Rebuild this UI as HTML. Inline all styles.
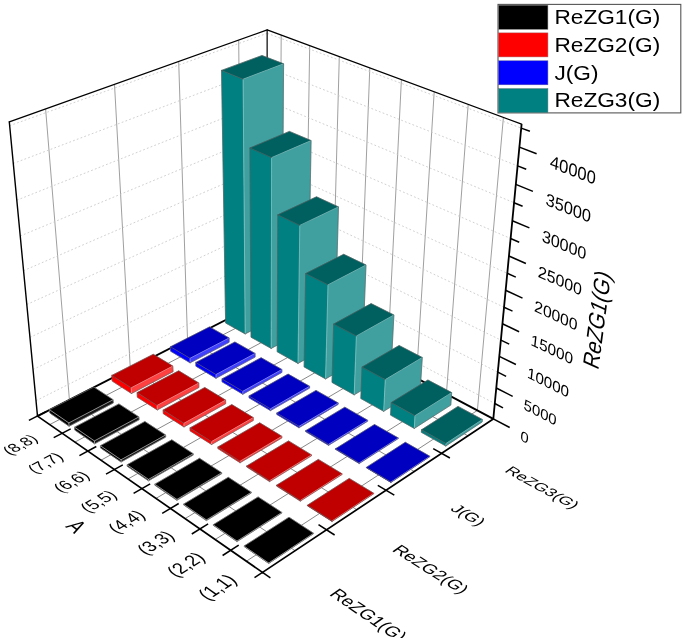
<!DOCTYPE html>
<html><head><meta charset="utf-8"><title>chart</title>
<style>html,body{margin:0;padding:0;background:#fff}svg{display:block}text{font-family:"Liberation Sans",sans-serif;fill:#000}</style>
</head><body>
<svg width="685" height="638" viewBox="0 0 685 638">
<rect width="685" height="638" fill="#fff"/>
<line x1="69.4" y1="399.7" x2="45.6" y2="108.9" stroke="#949494" stroke-width="0.9" />
<line x1="130.3" y1="368.6" x2="114.5" y2="84.4" stroke="#949494" stroke-width="0.9" />
<line x1="187.5" y1="339.4" x2="178.7" y2="61.5" stroke="#949494" stroke-width="0.9" />
<line x1="241.3" y1="312.0" x2="238.7" y2="40.1" stroke="#949494" stroke-width="0.9" />
<line x1="477.4" y1="410.4" x2="503.4" y2="117.5" stroke="#949494" stroke-width="0.9" />
<line x1="446.4" y1="394.0" x2="468.2" y2="104.4" stroke="#949494" stroke-width="0.9" />
<line x1="416.4" y1="378.0" x2="434.2" y2="91.8" stroke="#949494" stroke-width="0.9" />
<line x1="387.3" y1="362.6" x2="401.4" y2="79.7" stroke="#949494" stroke-width="0.9" />
<line x1="359.1" y1="347.6" x2="369.8" y2="67.9" stroke="#949494" stroke-width="0.9" />
<line x1="331.8" y1="333.2" x2="339.3" y2="56.6" stroke="#949494" stroke-width="0.9" />
<line x1="305.3" y1="319.1" x2="309.7" y2="45.6" stroke="#949494" stroke-width="0.9" />
<line x1="279.6" y1="305.5" x2="281.2" y2="35.0" stroke="#949494" stroke-width="0.9" />
<line x1="36.0" y1="400.7" x2="267.1" y2="284.6" stroke="#c4c4c4" stroke-width="0.8" stroke-dasharray="1.8 2.2"/>
<line x1="267.1" y1="284.6" x2="494.8" y2="403.5" stroke="#c4c4c4" stroke-width="0.8" stroke-dasharray="1.8 2.2"/>
<line x1="33.0" y1="369.5" x2="267.1" y2="255.7" stroke="#c4c4c4" stroke-width="0.8" stroke-dasharray="1.8 2.2"/>
<line x1="267.1" y1="255.7" x2="497.8" y2="372.2" stroke="#c4c4c4" stroke-width="0.8" stroke-dasharray="1.8 2.2"/>
<line x1="29.9" y1="337.4" x2="267.1" y2="226.2" stroke="#c4c4c4" stroke-width="0.8" stroke-dasharray="1.8 2.2"/>
<line x1="267.1" y1="226.2" x2="500.9" y2="340.1" stroke="#c4c4c4" stroke-width="0.8" stroke-dasharray="1.8 2.2"/>
<line x1="26.8" y1="304.5" x2="267.1" y2="195.9" stroke="#c4c4c4" stroke-width="0.8" stroke-dasharray="1.8 2.2"/>
<line x1="267.1" y1="195.9" x2="504.0" y2="307.2" stroke="#c4c4c4" stroke-width="0.8" stroke-dasharray="1.8 2.2"/>
<line x1="23.5" y1="270.7" x2="267.2" y2="165.0" stroke="#c4c4c4" stroke-width="0.8" stroke-dasharray="1.8 2.2"/>
<line x1="267.2" y1="165.0" x2="507.3" y2="273.3" stroke="#c4c4c4" stroke-width="0.8" stroke-dasharray="1.8 2.2"/>
<line x1="20.2" y1="236.0" x2="267.2" y2="133.2" stroke="#c4c4c4" stroke-width="0.8" stroke-dasharray="1.8 2.2"/>
<line x1="267.2" y1="133.2" x2="510.6" y2="238.5" stroke="#c4c4c4" stroke-width="0.8" stroke-dasharray="1.8 2.2"/>
<line x1="16.8" y1="200.2" x2="267.2" y2="100.7" stroke="#c4c4c4" stroke-width="0.8" stroke-dasharray="1.8 2.2"/>
<line x1="267.2" y1="100.7" x2="514.0" y2="202.7" stroke="#c4c4c4" stroke-width="0.8" stroke-dasharray="1.8 2.2"/>
<line x1="13.2" y1="163.5" x2="267.2" y2="67.5" stroke="#c4c4c4" stroke-width="0.8" stroke-dasharray="1.8 2.2"/>
<line x1="267.2" y1="67.5" x2="517.6" y2="165.9" stroke="#c4c4c4" stroke-width="0.8" stroke-dasharray="1.8 2.2"/>
<line x1="9.6" y1="125.7" x2="267.2" y2="33.3" stroke="#c4c4c4" stroke-width="0.8" stroke-dasharray="1.8 2.2"/>
<line x1="267.2" y1="33.3" x2="521.2" y2="128.1" stroke="#c4c4c4" stroke-width="0.8" stroke-dasharray="1.8 2.2"/>
<line x1="295.1" y1="550.7" x2="69.4" y2="399.7" stroke="#6a6a6a" stroke-width="0.8" />
<line x1="356.8" y1="509.7" x2="130.3" y2="368.6" stroke="#6a6a6a" stroke-width="0.8" />
<line x1="414.3" y1="471.5" x2="187.5" y2="339.4" stroke="#6a6a6a" stroke-width="0.8" />
<line x1="467.9" y1="435.8" x2="241.3" y2="312.0" stroke="#6a6a6a" stroke-width="0.8" />
<line x1="246.4" y1="561.2" x2="477.4" y2="410.4" stroke="#6a6a6a" stroke-width="0.8" />
<line x1="215.2" y1="539.5" x2="446.4" y2="394.0" stroke="#6a6a6a" stroke-width="0.8" />
<line x1="185.1" y1="518.6" x2="416.4" y2="378.0" stroke="#6a6a6a" stroke-width="0.8" />
<line x1="156.0" y1="498.4" x2="387.3" y2="362.6" stroke="#6a6a6a" stroke-width="0.8" />
<line x1="128.0" y1="479.0" x2="359.1" y2="347.6" stroke="#6a6a6a" stroke-width="0.8" />
<line x1="101.0" y1="460.2" x2="331.8" y2="333.2" stroke="#6a6a6a" stroke-width="0.8" />
<line x1="74.9" y1="442.1" x2="305.3" y2="319.1" stroke="#6a6a6a" stroke-width="0.8" />
<line x1="49.7" y1="424.6" x2="279.6" y2="305.5" stroke="#6a6a6a" stroke-width="0.8" />
<line x1="267.1" y1="298.8" x2="267.2" y2="29.9" stroke="#444" stroke-width="1.6" />
<line x1="37.5" y1="416.1" x2="9.3" y2="121.9" stroke="#000" stroke-width="1.4" stroke-linecap="round"/>
<line x1="9.3" y1="121.9" x2="267.2" y2="29.9" stroke="#000" stroke-width="1.3" stroke-linecap="round"/>
<line x1="267.2" y1="29.9" x2="521.6" y2="124.2" stroke="#000" stroke-width="1.3" stroke-linecap="round"/>
<line x1="37.5" y1="416.1" x2="267.1" y2="298.8" stroke="#000" stroke-width="1.9" />
<line x1="267.1" y1="298.8" x2="493.3" y2="418.9" stroke="#000" stroke-width="1.9" />
<polygon points="225.6,323.0 245.2,333.9 243.1,79.2 221.5,70.4" fill="#008080" stroke="#008080" stroke-width="0.4" stroke-linejoin="round"/>
<polygon points="245.2,333.9 281.9,314.7 283.6,63.8 243.1,79.2" fill="#40a0a0" stroke="#40a0a0" stroke-width="0.4" stroke-linejoin="round"/>
<polygon points="221.5,70.4 262.0,55.5 283.6,63.8 243.1,79.2" fill="#006060" stroke="#006060" stroke-width="0.4" stroke-linejoin="round"/>
<polyline points="245.2,333.9 243.1,79.2 283.6,63.8" fill="none" stroke="#9ccccc" stroke-width="0.6" stroke-linejoin="round" stroke-linecap="round"/>
<polyline points="221.5,70.4 243.1,79.2" fill="none" stroke="#5c5c5c" stroke-width="0.6" stroke-linejoin="round" stroke-linecap="round"/>
<polyline points="245.2,333.9 225.6,323.0 221.5,70.4 262.0,55.5 283.6,63.8 281.9,314.7 245.2,333.9" fill="none" stroke="#5c5c5c" stroke-width="0.6" stroke-linejoin="round" stroke-linecap="round"/>
<polygon points="251.0,337.2 271.2,348.4 271.6,157.6 249.9,148.0" fill="#008080" stroke="#008080" stroke-width="0.4" stroke-linejoin="round"/>
<polygon points="271.2,348.4 307.9,328.6 311.1,140.6 271.6,157.6" fill="#40a0a0" stroke="#40a0a0" stroke-width="0.4" stroke-linejoin="round"/>
<polygon points="249.9,148.0 289.4,131.4 311.1,140.6 271.6,157.6" fill="#006060" stroke="#006060" stroke-width="0.4" stroke-linejoin="round"/>
<polyline points="271.2,348.4 271.6,157.6 311.1,140.6" fill="none" stroke="#9ccccc" stroke-width="0.6" stroke-linejoin="round" stroke-linecap="round"/>
<polyline points="249.9,148.0 271.6,157.6" fill="none" stroke="#5c5c5c" stroke-width="0.6" stroke-linejoin="round" stroke-linecap="round"/>
<polyline points="271.2,348.4 251.0,337.2 249.9,148.0 289.4,131.4 311.1,140.6 307.9,328.6 271.2,348.4" fill="none" stroke="#5c5c5c" stroke-width="0.6" stroke-linejoin="round" stroke-linecap="round"/>
<polygon points="277.2,351.8 298.0,363.4 299.8,225.4 277.8,214.8" fill="#008080" stroke="#008080" stroke-width="0.4" stroke-linejoin="round"/>
<polygon points="298.0,363.4 334.7,342.9 338.5,206.9 299.8,225.4" fill="#40a0a0" stroke="#40a0a0" stroke-width="0.4" stroke-linejoin="round"/>
<polygon points="277.8,214.8 316.5,196.8 338.5,206.9 299.8,225.4" fill="#006060" stroke="#006060" stroke-width="0.4" stroke-linejoin="round"/>
<polyline points="298.0,363.4 299.8,225.4 338.5,206.9" fill="none" stroke="#9ccccc" stroke-width="0.6" stroke-linejoin="round" stroke-linecap="round"/>
<polyline points="277.8,214.8 299.8,225.4" fill="none" stroke="#5c5c5c" stroke-width="0.6" stroke-linejoin="round" stroke-linecap="round"/>
<polyline points="298.0,363.4 277.2,351.8 277.8,214.8 316.5,196.8 338.5,206.9 334.7,342.9 298.0,363.4" fill="none" stroke="#5c5c5c" stroke-width="0.6" stroke-linejoin="round" stroke-linecap="round"/>
<polygon points="304.1,366.9 325.6,378.9 328.0,284.8 305.6,273.6" fill="#008080" stroke="#008080" stroke-width="0.4" stroke-linejoin="round"/>
<polygon points="325.6,378.9 362.3,357.7 366.0,265.0 328.0,284.8" fill="#40a0a0" stroke="#40a0a0" stroke-width="0.4" stroke-linejoin="round"/>
<polygon points="305.6,273.6 343.7,254.3 366.0,265.0 328.0,284.8" fill="#006060" stroke="#006060" stroke-width="0.4" stroke-linejoin="round"/>
<polyline points="325.6,378.9 328.0,284.8 366.0,265.0" fill="none" stroke="#9ccccc" stroke-width="0.6" stroke-linejoin="round" stroke-linecap="round"/>
<polyline points="305.6,273.6 328.0,284.8" fill="none" stroke="#5c5c5c" stroke-width="0.6" stroke-linejoin="round" stroke-linecap="round"/>
<polyline points="325.6,378.9 304.1,366.9 305.6,273.6 343.7,254.3 366.0,265.0 362.3,357.7 325.6,378.9" fill="none" stroke="#5c5c5c" stroke-width="0.6" stroke-linejoin="round" stroke-linecap="round"/>
<polygon points="332.0,382.4 354.2,394.8 356.4,336.0 333.6,324.1" fill="#008080" stroke="#008080" stroke-width="0.4" stroke-linejoin="round"/>
<polygon points="354.2,394.8 390.9,373.0 393.9,315.0 356.4,336.0" fill="#40a0a0" stroke="#40a0a0" stroke-width="0.4" stroke-linejoin="round"/>
<polygon points="333.6,324.1 371.1,303.6 393.9,315.0 356.4,336.0" fill="#006060" stroke="#006060" stroke-width="0.4" stroke-linejoin="round"/>
<polyline points="354.2,394.8 356.4,336.0 393.9,315.0" fill="none" stroke="#9ccccc" stroke-width="0.6" stroke-linejoin="round" stroke-linecap="round"/>
<polyline points="333.6,324.1 356.4,336.0" fill="none" stroke="#5c5c5c" stroke-width="0.6" stroke-linejoin="round" stroke-linecap="round"/>
<polyline points="354.2,394.8 332.0,382.4 333.6,324.1 371.1,303.6 393.9,315.0 390.9,373.0 354.2,394.8" fill="none" stroke="#5c5c5c" stroke-width="0.6" stroke-linejoin="round" stroke-linecap="round"/>
<polygon points="360.8,398.5 383.7,411.3 385.3,379.6 362.0,367.1" fill="#008080" stroke="#008080" stroke-width="0.4" stroke-linejoin="round"/>
<polygon points="383.7,411.3 420.3,388.8 422.3,357.5 385.3,379.6" fill="#40a0a0" stroke="#40a0a0" stroke-width="0.4" stroke-linejoin="round"/>
<polygon points="362.0,367.1 399.1,345.5 422.3,357.5 385.3,379.6" fill="#006060" stroke="#006060" stroke-width="0.4" stroke-linejoin="round"/>
<polyline points="383.7,411.3 385.3,379.6 422.3,357.5" fill="none" stroke="#9ccccc" stroke-width="0.6" stroke-linejoin="round" stroke-linecap="round"/>
<polyline points="362.0,367.1 385.3,379.6" fill="none" stroke="#5c5c5c" stroke-width="0.6" stroke-linejoin="round" stroke-linecap="round"/>
<polyline points="383.7,411.3 360.8,398.5 362.0,367.1 399.1,345.5 422.3,357.5 420.3,388.8 383.7,411.3" fill="none" stroke="#5c5c5c" stroke-width="0.6" stroke-linejoin="round" stroke-linecap="round"/>
<polygon points="390.5,415.1 414.3,428.4 415.0,415.7 391.2,402.6" fill="#008080" stroke="#008080" stroke-width="0.4" stroke-linejoin="round"/>
<polygon points="414.3,428.4 450.8,405.1 451.7,392.6 415.0,415.7" fill="#40a0a0" stroke="#40a0a0" stroke-width="0.4" stroke-linejoin="round"/>
<polygon points="391.2,402.6 427.9,380.0 451.7,392.6 415.0,415.7" fill="#006060" stroke="#006060" stroke-width="0.4" stroke-linejoin="round"/>
<polyline points="414.3,428.4 415.0,415.7 451.7,392.6" fill="none" stroke="#9ccccc" stroke-width="0.6" stroke-linejoin="round" stroke-linecap="round"/>
<polyline points="391.2,402.6 415.0,415.7" fill="none" stroke="#5c5c5c" stroke-width="0.6" stroke-linejoin="round" stroke-linecap="round"/>
<polyline points="414.3,428.4 390.5,415.1 391.2,402.6 427.9,380.0 451.7,392.6 450.8,405.1 414.3,428.4" fill="none" stroke="#5c5c5c" stroke-width="0.6" stroke-linejoin="round" stroke-linecap="round"/>
<polygon points="421.3,432.3 445.8,446.0 446.0,443.5 421.5,429.8" fill="#008080" stroke="#008080" stroke-width="0.4" stroke-linejoin="round"/>
<polygon points="445.8,446.0 482.2,421.9 482.4,419.5 446.0,443.5" fill="#40a0a0" stroke="#40a0a0" stroke-width="0.4" stroke-linejoin="round"/>
<polygon points="421.5,429.8 458.0,406.4 482.4,419.5 446.0,443.5" fill="#006060" stroke="#006060" stroke-width="0.4" stroke-linejoin="round"/>
<polyline points="445.8,446.0 446.0,443.5 482.4,419.5" fill="none" stroke="#9ccccc" stroke-width="0.6" stroke-linejoin="round" stroke-linecap="round"/>
<polyline points="421.5,429.8 446.0,443.5" fill="none" stroke="#5c5c5c" stroke-width="0.6" stroke-linejoin="round" stroke-linecap="round"/>
<polyline points="445.8,446.0 421.3,432.3 421.5,429.8 458.0,406.4 482.4,419.5 482.2,421.9 445.8,446.0" fill="none" stroke="#5c5c5c" stroke-width="0.6" stroke-linejoin="round" stroke-linecap="round"/>
<polygon points="170.6,351.2 190.1,362.8 190.0,358.3 170.5,346.8" fill="#0000ff" stroke="#0000ff" stroke-width="0.4" stroke-linejoin="round"/>
<polygon points="190.1,362.8 229.1,342.3 229.1,338.0 190.0,358.3" fill="#4040ff" stroke="#4040ff" stroke-width="0.4" stroke-linejoin="round"/>
<polygon points="170.5,346.8 209.5,326.9 229.1,338.0 190.0,358.3" fill="#0000c0" stroke="#0000c0" stroke-width="0.4" stroke-linejoin="round"/>
<polyline points="190.1,362.8 190.0,358.3 229.1,338.0" fill="none" stroke="#b0b0ff" stroke-width="0.6" stroke-linejoin="round" stroke-linecap="round"/>
<polyline points="170.5,346.8 190.0,358.3" fill="none" stroke="#5c5c5c" stroke-width="0.6" stroke-linejoin="round" stroke-linecap="round"/>
<polyline points="190.1,362.8 170.6,351.2 170.5,346.8 209.5,326.9 229.1,338.0 229.1,342.3 190.1,362.8" fill="none" stroke="#5c5c5c" stroke-width="0.6" stroke-linejoin="round" stroke-linecap="round"/>
<polygon points="195.9,366.2 216.0,378.2 216.0,374.5 195.8,362.5" fill="#0000ff" stroke="#0000ff" stroke-width="0.4" stroke-linejoin="round"/>
<polygon points="216.0,378.2 255.1,357.1 255.1,353.4 216.0,374.5" fill="#4040ff" stroke="#4040ff" stroke-width="0.4" stroke-linejoin="round"/>
<polygon points="195.8,362.5 234.9,342.0 255.1,353.4 216.0,374.5" fill="#0000c0" stroke="#0000c0" stroke-width="0.4" stroke-linejoin="round"/>
<polyline points="216.0,378.2 216.0,374.5 255.1,353.4" fill="none" stroke="#b0b0ff" stroke-width="0.6" stroke-linejoin="round" stroke-linecap="round"/>
<polyline points="195.8,362.5 216.0,374.5" fill="none" stroke="#5c5c5c" stroke-width="0.6" stroke-linejoin="round" stroke-linecap="round"/>
<polyline points="216.0,378.2 195.9,366.2 195.8,362.5 234.9,342.0 255.1,353.4 255.1,357.1 216.0,378.2" fill="none" stroke="#5c5c5c" stroke-width="0.6" stroke-linejoin="round" stroke-linecap="round"/>
<polygon points="222.0,381.8 242.8,394.2 242.8,391.3 222.0,378.9" fill="#0000ff" stroke="#0000ff" stroke-width="0.4" stroke-linejoin="round"/>
<polygon points="242.8,394.2 281.9,372.4 281.9,369.5 242.8,391.3" fill="#4040ff" stroke="#4040ff" stroke-width="0.4" stroke-linejoin="round"/>
<polygon points="222.0,378.9 261.1,357.7 281.9,369.5 242.8,391.3" fill="#0000c0" stroke="#0000c0" stroke-width="0.4" stroke-linejoin="round"/>
<polyline points="242.8,394.2 242.8,391.3 281.9,369.5" fill="none" stroke="#b0b0ff" stroke-width="0.6" stroke-linejoin="round" stroke-linecap="round"/>
<polyline points="222.0,378.9 242.8,391.3" fill="none" stroke="#5c5c5c" stroke-width="0.6" stroke-linejoin="round" stroke-linecap="round"/>
<polyline points="242.8,394.2 222.0,381.8 222.0,378.9 261.1,357.7 281.9,369.5 281.9,372.4 242.8,394.2" fill="none" stroke="#5c5c5c" stroke-width="0.6" stroke-linejoin="round" stroke-linecap="round"/>
<polygon points="249.0,397.8 270.5,410.6 270.5,408.8 249.0,396.0" fill="#0000ff" stroke="#0000ff" stroke-width="0.4" stroke-linejoin="round"/>
<polygon points="270.5,410.6 309.6,388.1 309.6,386.3 270.5,408.8" fill="#4040ff" stroke="#4040ff" stroke-width="0.4" stroke-linejoin="round"/>
<polygon points="249.0,396.0 288.1,374.1 309.6,386.3 270.5,408.8" fill="#0000c0" stroke="#0000c0" stroke-width="0.4" stroke-linejoin="round"/>
<polyline points="270.5,410.6 270.5,408.8 309.6,386.3" fill="none" stroke="#b0b0ff" stroke-width="0.6" stroke-linejoin="round" stroke-linecap="round"/>
<polyline points="249.0,396.0 270.5,408.8" fill="none" stroke="#5c5c5c" stroke-width="0.6" stroke-linejoin="round" stroke-linecap="round"/>
<polyline points="270.5,410.6 249.0,397.8 249.0,396.0 288.1,374.1 309.6,386.3 309.6,388.1 270.5,410.6" fill="none" stroke="#5c5c5c" stroke-width="0.6" stroke-linejoin="round" stroke-linecap="round"/>
<polygon points="276.8,414.4 299.0,427.7 299.1,426.3 276.8,413.1" fill="#0000ff" stroke="#0000ff" stroke-width="0.4" stroke-linejoin="round"/>
<polygon points="299.0,427.7 338.1,404.4 338.2,403.0 299.1,426.3" fill="#4040ff" stroke="#4040ff" stroke-width="0.4" stroke-linejoin="round"/>
<polygon points="276.8,413.1 316.0,390.4 338.2,403.0 299.1,426.3" fill="#0000c0" stroke="#0000c0" stroke-width="0.4" stroke-linejoin="round"/>
<polyline points="299.0,427.7 299.1,426.3 338.2,403.0" fill="none" stroke="#b0b0ff" stroke-width="0.6" stroke-linejoin="round" stroke-linecap="round"/>
<polyline points="276.8,413.1 299.1,426.3" fill="none" stroke="#5c5c5c" stroke-width="0.6" stroke-linejoin="round" stroke-linecap="round"/>
<polyline points="299.0,427.7 276.8,414.4 276.8,413.1 316.0,390.4 338.2,403.0 338.1,404.4 299.0,427.7" fill="none" stroke="#5c5c5c" stroke-width="0.6" stroke-linejoin="round" stroke-linecap="round"/>
<polygon points="305.6,431.6 328.6,445.3 328.6,444.3 305.7,430.7" fill="#0000ff" stroke="#0000ff" stroke-width="0.4" stroke-linejoin="round"/>
<polygon points="328.6,445.3 367.7,421.2 367.7,420.3 328.6,444.3" fill="#4040ff" stroke="#4040ff" stroke-width="0.4" stroke-linejoin="round"/>
<polygon points="305.7,430.7 344.8,407.2 367.7,420.3 328.6,444.3" fill="#0000c0" stroke="#0000c0" stroke-width="0.4" stroke-linejoin="round"/>
<polyline points="328.6,445.3 328.6,444.3 367.7,420.3" fill="none" stroke="#b0b0ff" stroke-width="0.6" stroke-linejoin="round" stroke-linecap="round"/>
<polyline points="305.7,430.7 328.6,444.3" fill="none" stroke="#5c5c5c" stroke-width="0.6" stroke-linejoin="round" stroke-linecap="round"/>
<polyline points="328.6,445.3 305.6,431.6 305.7,430.7 344.8,407.2 367.7,420.3 367.7,421.2 328.6,445.3" fill="none" stroke="#5c5c5c" stroke-width="0.6" stroke-linejoin="round" stroke-linecap="round"/>
<polygon points="335.4,449.3 359.2,463.5 359.2,462.9 335.5,448.8" fill="#0000ff" stroke="#0000ff" stroke-width="0.4" stroke-linejoin="round"/>
<polygon points="359.2,463.5 398.2,438.6 398.3,438.0 359.2,462.9" fill="#4040ff" stroke="#4040ff" stroke-width="0.4" stroke-linejoin="round"/>
<polygon points="335.5,448.8 374.5,424.5 398.3,438.0 359.2,462.9" fill="#0000c0" stroke="#0000c0" stroke-width="0.4" stroke-linejoin="round"/>
<polyline points="359.2,463.5 359.2,462.9 398.3,438.0" fill="none" stroke="#b0b0ff" stroke-width="0.6" stroke-linejoin="round" stroke-linecap="round"/>
<polyline points="335.5,448.8 359.2,462.9" fill="none" stroke="#5c5c5c" stroke-width="0.6" stroke-linejoin="round" stroke-linecap="round"/>
<polyline points="359.2,463.5 335.4,449.3 335.5,448.8 374.5,424.5 398.3,438.0 398.2,438.6 359.2,463.5" fill="none" stroke="#5c5c5c" stroke-width="0.6" stroke-linejoin="round" stroke-linecap="round"/>
<polygon points="366.3,467.7 390.9,482.4 390.9,482.1 366.3,467.4" fill="#0000ff" stroke="#0000ff" stroke-width="0.4" stroke-linejoin="round"/>
<polygon points="390.9,482.4 429.9,456.6 429.9,456.3 390.9,482.1" fill="#4040ff" stroke="#4040ff" stroke-width="0.4" stroke-linejoin="round"/>
<polygon points="366.3,467.4 405.3,442.3 429.9,456.3 390.9,482.1" fill="#0000c0" stroke="#0000c0" stroke-width="0.4" stroke-linejoin="round"/>
<polyline points="390.9,482.4 390.9,482.1 429.9,456.3" fill="none" stroke="#b0b0ff" stroke-width="0.6" stroke-linejoin="round" stroke-linecap="round"/>
<polyline points="366.3,467.4 390.9,482.1" fill="none" stroke="#5c5c5c" stroke-width="0.6" stroke-linejoin="round" stroke-linecap="round"/>
<polyline points="390.9,482.4 366.3,467.7 366.3,467.4 405.3,442.3 429.9,456.3 429.9,456.6 390.9,482.4" fill="none" stroke="#5c5c5c" stroke-width="0.6" stroke-linejoin="round" stroke-linecap="round"/>
<polygon points="112.2,381.1 131.5,393.5 131.2,387.8 111.8,375.4" fill="#ff0000" stroke="#ff0000" stroke-width="0.4" stroke-linejoin="round"/>
<polygon points="131.5,393.5 173.1,371.7 172.8,366.1 131.2,387.8" fill="#ff4040" stroke="#ff4040" stroke-width="0.4" stroke-linejoin="round"/>
<polygon points="111.8,375.4 153.3,354.3 172.8,366.1 131.2,387.8" fill="#c00000" stroke="#c00000" stroke-width="0.4" stroke-linejoin="round"/>
<polyline points="131.5,393.5 131.2,387.8 172.8,366.1" fill="none" stroke="#ffb0b0" stroke-width="0.6" stroke-linejoin="round" stroke-linecap="round"/>
<polyline points="111.8,375.4 131.2,387.8" fill="none" stroke="#5c5c5c" stroke-width="0.6" stroke-linejoin="round" stroke-linecap="round"/>
<polyline points="131.5,393.5 112.2,381.1 111.8,375.4 153.3,354.3 172.8,366.1 173.1,371.7 131.5,393.5" fill="none" stroke="#5c5c5c" stroke-width="0.6" stroke-linejoin="round" stroke-linecap="round"/>
<polygon points="137.3,397.2 157.3,409.9 157.1,405.4 137.1,392.6" fill="#ff0000" stroke="#ff0000" stroke-width="0.4" stroke-linejoin="round"/>
<polygon points="157.3,409.9 198.9,387.5 198.8,383.0 157.1,405.4" fill="#ff4040" stroke="#ff4040" stroke-width="0.4" stroke-linejoin="round"/>
<polygon points="137.1,392.6 178.7,370.8 198.8,383.0 157.1,405.4" fill="#c00000" stroke="#c00000" stroke-width="0.4" stroke-linejoin="round"/>
<polyline points="157.3,409.9 157.1,405.4 198.8,383.0" fill="none" stroke="#ffb0b0" stroke-width="0.6" stroke-linejoin="round" stroke-linecap="round"/>
<polyline points="137.1,392.6 157.1,405.4" fill="none" stroke="#5c5c5c" stroke-width="0.6" stroke-linejoin="round" stroke-linecap="round"/>
<polyline points="157.3,409.9 137.3,397.2 137.1,392.6 178.7,370.8 198.8,383.0 198.9,387.5 157.3,409.9" fill="none" stroke="#5c5c5c" stroke-width="0.6" stroke-linejoin="round" stroke-linecap="round"/>
<polygon points="163.3,413.7 184.0,426.9 183.9,423.3 163.1,410.1" fill="#ff0000" stroke="#ff0000" stroke-width="0.4" stroke-linejoin="round"/>
<polygon points="184.0,426.9 225.7,403.7 225.6,400.1 183.9,423.3" fill="#ff4040" stroke="#ff4040" stroke-width="0.4" stroke-linejoin="round"/>
<polygon points="163.1,410.1 204.8,387.5 225.6,400.1 183.9,423.3" fill="#c00000" stroke="#c00000" stroke-width="0.4" stroke-linejoin="round"/>
<polyline points="184.0,426.9 183.9,423.3 225.6,400.1" fill="none" stroke="#ffb0b0" stroke-width="0.6" stroke-linejoin="round" stroke-linecap="round"/>
<polyline points="163.1,410.1 183.9,423.3" fill="none" stroke="#5c5c5c" stroke-width="0.6" stroke-linejoin="round" stroke-linecap="round"/>
<polyline points="184.0,426.9 163.3,413.7 163.1,410.1 204.8,387.5 225.6,400.1 225.7,403.7 184.0,426.9" fill="none" stroke="#5c5c5c" stroke-width="0.6" stroke-linejoin="round" stroke-linecap="round"/>
<polygon points="190.1,430.9 211.6,444.5 211.5,441.6 190.0,427.9" fill="#ff0000" stroke="#ff0000" stroke-width="0.4" stroke-linejoin="round"/>
<polygon points="211.6,444.5 253.3,420.5 253.3,417.6 211.5,441.6" fill="#ff4040" stroke="#ff4040" stroke-width="0.4" stroke-linejoin="round"/>
<polygon points="190.0,427.9 231.8,404.6 253.3,417.6 211.5,441.6" fill="#c00000" stroke="#c00000" stroke-width="0.4" stroke-linejoin="round"/>
<polyline points="211.6,444.5 211.5,441.6 253.3,417.6" fill="none" stroke="#ffb0b0" stroke-width="0.6" stroke-linejoin="round" stroke-linecap="round"/>
<polyline points="190.0,427.9 211.5,441.6" fill="none" stroke="#5c5c5c" stroke-width="0.6" stroke-linejoin="round" stroke-linecap="round"/>
<polyline points="211.6,444.5 190.1,430.9 190.0,427.9 231.8,404.6 253.3,417.6 253.3,420.5 211.6,444.5" fill="none" stroke="#5c5c5c" stroke-width="0.6" stroke-linejoin="round" stroke-linecap="round"/>
<polygon points="217.9,448.6 240.1,462.7 240.1,461.2 217.9,447.0" fill="#ff0000" stroke="#ff0000" stroke-width="0.4" stroke-linejoin="round"/>
<polygon points="240.1,462.7 281.9,437.9 281.9,436.3 240.1,461.2" fill="#ff4040" stroke="#ff4040" stroke-width="0.4" stroke-linejoin="round"/>
<polygon points="217.9,447.0 259.7,422.8 281.9,436.3 240.1,461.2" fill="#c00000" stroke="#c00000" stroke-width="0.4" stroke-linejoin="round"/>
<polyline points="240.1,462.7 240.1,461.2 281.9,436.3" fill="none" stroke="#ffb0b0" stroke-width="0.6" stroke-linejoin="round" stroke-linecap="round"/>
<polyline points="217.9,447.0 240.1,461.2" fill="none" stroke="#5c5c5c" stroke-width="0.6" stroke-linejoin="round" stroke-linecap="round"/>
<polyline points="240.1,462.7 217.9,448.6 217.9,447.0 259.7,422.8 281.9,436.3 281.9,437.9 240.1,462.7" fill="none" stroke="#5c5c5c" stroke-width="0.6" stroke-linejoin="round" stroke-linecap="round"/>
<polygon points="246.7,466.9 269.6,481.6 269.6,480.7 246.7,466.0" fill="#ff0000" stroke="#ff0000" stroke-width="0.4" stroke-linejoin="round"/>
<polygon points="269.6,481.6 311.5,455.8 311.5,454.9 269.6,480.7" fill="#ff4040" stroke="#ff4040" stroke-width="0.4" stroke-linejoin="round"/>
<polygon points="246.7,466.0 288.5,440.9 311.5,454.9 269.6,480.7" fill="#c00000" stroke="#c00000" stroke-width="0.4" stroke-linejoin="round"/>
<polyline points="269.6,481.6 269.6,480.7 311.5,454.9" fill="none" stroke="#ffb0b0" stroke-width="0.6" stroke-linejoin="round" stroke-linecap="round"/>
<polyline points="246.7,466.0 269.6,480.7" fill="none" stroke="#5c5c5c" stroke-width="0.6" stroke-linejoin="round" stroke-linecap="round"/>
<polyline points="269.6,481.6 246.7,466.9 246.7,466.0 288.5,440.9 311.5,454.9 311.5,455.8 269.6,481.6" fill="none" stroke="#5c5c5c" stroke-width="0.6" stroke-linejoin="round" stroke-linecap="round"/>
<polygon points="276.5,486.0 300.3,501.1 300.3,500.5 276.5,485.3" fill="#ff0000" stroke="#ff0000" stroke-width="0.4" stroke-linejoin="round"/>
<polygon points="300.3,501.1 342.1,474.5 342.1,473.8 300.3,500.5" fill="#ff4040" stroke="#ff4040" stroke-width="0.4" stroke-linejoin="round"/>
<polygon points="276.5,485.3 318.3,459.4 342.1,473.8 300.3,500.5" fill="#c00000" stroke="#c00000" stroke-width="0.4" stroke-linejoin="round"/>
<polyline points="300.3,501.1 300.3,500.5 342.1,473.8" fill="none" stroke="#ffb0b0" stroke-width="0.6" stroke-linejoin="round" stroke-linecap="round"/>
<polyline points="276.5,485.3 300.3,500.5" fill="none" stroke="#5c5c5c" stroke-width="0.6" stroke-linejoin="round" stroke-linecap="round"/>
<polyline points="300.3,501.1 276.5,486.0 276.5,485.3 318.3,459.4 342.1,473.8 342.1,474.5 300.3,501.1" fill="none" stroke="#5c5c5c" stroke-width="0.6" stroke-linejoin="round" stroke-linecap="round"/>
<polygon points="307.3,505.7 332.0,521.4 332.0,521.0 307.3,505.3" fill="#ff0000" stroke="#ff0000" stroke-width="0.4" stroke-linejoin="round"/>
<polygon points="332.0,521.4 373.8,493.7 373.8,493.3 332.0,521.0" fill="#ff4040" stroke="#ff4040" stroke-width="0.4" stroke-linejoin="round"/>
<polygon points="307.3,505.3 349.2,478.4 373.8,493.3 332.0,521.0" fill="#c00000" stroke="#c00000" stroke-width="0.4" stroke-linejoin="round"/>
<polyline points="332.0,521.4 332.0,521.0 373.8,493.3" fill="none" stroke="#ffb0b0" stroke-width="0.6" stroke-linejoin="round" stroke-linecap="round"/>
<polyline points="307.3,505.3 332.0,521.0" fill="none" stroke="#5c5c5c" stroke-width="0.6" stroke-linejoin="round" stroke-linecap="round"/>
<polyline points="332.0,521.4 307.3,505.7 307.3,505.3 349.2,478.4 373.8,493.3 373.8,493.7 332.0,521.4" fill="none" stroke="#5c5c5c" stroke-width="0.6" stroke-linejoin="round" stroke-linecap="round"/>
<polygon points="49.8,413.0 69.1,426.2 68.8,422.9 49.5,409.7" fill="#000000" stroke="#000000" stroke-width="0.4" stroke-linejoin="round"/>
<polygon points="69.1,426.2 113.3,403.0 113.1,399.7 68.8,422.9" fill="#181818" stroke="#181818" stroke-width="0.4" stroke-linejoin="round"/>
<polygon points="49.5,409.7 93.8,387.1 113.1,399.7 68.8,422.9" fill="#000000" stroke="#000000" stroke-width="0.4" stroke-linejoin="round"/>
<polyline points="69.1,426.2 68.8,422.9 113.1,399.7" fill="none" stroke="#d8d8d8" stroke-width="0.6" stroke-linejoin="round" stroke-linecap="round"/>
<polyline points="49.5,409.7 68.8,422.9" fill="none" stroke="#d8d8d8" stroke-width="0.6" stroke-linejoin="round" stroke-linecap="round"/>
<polyline points="69.1,426.2 49.8,413.0 49.5,409.7 93.8,387.1 113.1,399.7 113.3,403.0 69.1,426.2" fill="none" stroke="#8a8a8a" stroke-width="0.6" stroke-linejoin="round" stroke-linecap="round"/>
<polygon points="74.8,430.1 94.6,443.8 94.4,440.9 74.5,427.2" fill="#000000" stroke="#000000" stroke-width="0.4" stroke-linejoin="round"/>
<polygon points="94.6,443.8 139.1,419.8 138.9,416.9 94.4,440.9" fill="#181818" stroke="#181818" stroke-width="0.4" stroke-linejoin="round"/>
<polygon points="74.5,427.2 118.9,403.9 138.9,416.9 94.4,440.9" fill="#000000" stroke="#000000" stroke-width="0.4" stroke-linejoin="round"/>
<polyline points="94.6,443.8 94.4,440.9 138.9,416.9" fill="none" stroke="#d8d8d8" stroke-width="0.6" stroke-linejoin="round" stroke-linecap="round"/>
<polyline points="74.5,427.2 94.4,440.9" fill="none" stroke="#d8d8d8" stroke-width="0.6" stroke-linejoin="round" stroke-linecap="round"/>
<polyline points="94.6,443.8 74.8,430.1 74.5,427.2 118.9,403.9 138.9,416.9 139.1,419.8 94.6,443.8" fill="none" stroke="#8a8a8a" stroke-width="0.6" stroke-linejoin="round" stroke-linecap="round"/>
<polygon points="100.5,447.9 121.1,462.0 121.0,459.8 100.4,445.7" fill="#000000" stroke="#000000" stroke-width="0.4" stroke-linejoin="round"/>
<polygon points="121.1,462.0 165.7,437.1 165.6,435.0 121.0,459.8" fill="#181818" stroke="#181818" stroke-width="0.4" stroke-linejoin="round"/>
<polygon points="100.4,445.7 144.9,421.5 165.6,435.0 121.0,459.8" fill="#000000" stroke="#000000" stroke-width="0.4" stroke-linejoin="round"/>
<polyline points="121.1,462.0 121.0,459.8 165.6,435.0" fill="none" stroke="#d8d8d8" stroke-width="0.6" stroke-linejoin="round" stroke-linecap="round"/>
<polyline points="100.4,445.7 121.0,459.8" fill="none" stroke="#d8d8d8" stroke-width="0.6" stroke-linejoin="round" stroke-linecap="round"/>
<polyline points="121.1,462.0 100.5,447.9 100.4,445.7 144.9,421.5 165.6,435.0 165.7,437.1 121.1,462.0" fill="none" stroke="#8a8a8a" stroke-width="0.6" stroke-linejoin="round" stroke-linecap="round"/>
<polygon points="127.2,466.2 148.5,480.8 148.5,479.4 127.1,464.8" fill="#000000" stroke="#000000" stroke-width="0.4" stroke-linejoin="round"/>
<polygon points="148.5,480.8 193.2,455.1 193.2,453.7 148.5,479.4" fill="#181818" stroke="#181818" stroke-width="0.4" stroke-linejoin="round"/>
<polygon points="127.1,464.8 171.8,439.8 193.2,453.7 148.5,479.4" fill="#000000" stroke="#000000" stroke-width="0.4" stroke-linejoin="round"/>
<polyline points="148.5,480.8 148.5,479.4 193.2,453.7" fill="none" stroke="#d8d8d8" stroke-width="0.6" stroke-linejoin="round" stroke-linecap="round"/>
<polyline points="127.1,464.8 148.5,479.4" fill="none" stroke="#d8d8d8" stroke-width="0.6" stroke-linejoin="round" stroke-linecap="round"/>
<polyline points="148.5,480.8 127.2,466.2 127.1,464.8 171.8,439.8 193.2,453.7 193.2,455.1 148.5,480.8" fill="none" stroke="#8a8a8a" stroke-width="0.6" stroke-linejoin="round" stroke-linecap="round"/>
<polygon points="154.9,485.2 176.9,500.3 176.9,499.4 154.8,484.2" fill="#000000" stroke="#000000" stroke-width="0.4" stroke-linejoin="round"/>
<polygon points="176.9,500.3 221.7,473.7 221.7,472.7 176.9,499.4" fill="#181818" stroke="#181818" stroke-width="0.4" stroke-linejoin="round"/>
<polygon points="154.8,484.2 199.5,458.3 221.7,472.7 176.9,499.4" fill="#000000" stroke="#000000" stroke-width="0.4" stroke-linejoin="round"/>
<polyline points="176.9,500.3 176.9,499.4 221.7,472.7" fill="none" stroke="#d8d8d8" stroke-width="0.6" stroke-linejoin="round" stroke-linecap="round"/>
<polyline points="154.8,484.2 176.9,499.4" fill="none" stroke="#d8d8d8" stroke-width="0.6" stroke-linejoin="round" stroke-linecap="round"/>
<polyline points="176.9,500.3 154.9,485.2 154.8,484.2 199.5,458.3 221.7,472.7 221.7,473.7 176.9,500.3" fill="none" stroke="#8a8a8a" stroke-width="0.6" stroke-linejoin="round" stroke-linecap="round"/>
<polygon points="183.5,504.8 206.4,520.6 206.4,519.9 183.5,504.2" fill="#000000" stroke="#000000" stroke-width="0.4" stroke-linejoin="round"/>
<polygon points="206.4,520.6 251.3,492.9 251.3,492.3 206.4,519.9" fill="#181818" stroke="#181818" stroke-width="0.4" stroke-linejoin="round"/>
<polygon points="183.5,504.2 228.3,477.3 251.3,492.3 206.4,519.9" fill="#000000" stroke="#000000" stroke-width="0.4" stroke-linejoin="round"/>
<polyline points="206.4,520.6 206.4,519.9 251.3,492.3" fill="none" stroke="#d8d8d8" stroke-width="0.6" stroke-linejoin="round" stroke-linecap="round"/>
<polyline points="183.5,504.2 206.4,519.9" fill="none" stroke="#d8d8d8" stroke-width="0.6" stroke-linejoin="round" stroke-linecap="round"/>
<polyline points="206.4,520.6 183.5,504.8 183.5,504.2 228.3,477.3 251.3,492.3 251.3,492.9 206.4,520.6" fill="none" stroke="#8a8a8a" stroke-width="0.6" stroke-linejoin="round" stroke-linecap="round"/>
<polygon points="213.2,525.2 237.0,541.6 237.0,541.1 213.2,524.8" fill="#000000" stroke="#000000" stroke-width="0.4" stroke-linejoin="round"/>
<polygon points="237.0,541.6 281.9,512.9 281.9,512.4 237.0,541.1" fill="#181818" stroke="#181818" stroke-width="0.4" stroke-linejoin="round"/>
<polygon points="213.2,524.8 258.1,496.9 281.9,512.4 237.0,541.1" fill="#000000" stroke="#000000" stroke-width="0.4" stroke-linejoin="round"/>
<polyline points="237.0,541.6 237.0,541.1 281.9,512.4" fill="none" stroke="#d8d8d8" stroke-width="0.6" stroke-linejoin="round" stroke-linecap="round"/>
<polyline points="213.2,524.8 237.0,541.1" fill="none" stroke="#d8d8d8" stroke-width="0.6" stroke-linejoin="round" stroke-linecap="round"/>
<polyline points="237.0,541.6 213.2,525.2 213.2,524.8 258.1,496.9 281.9,512.4 281.9,512.9 237.0,541.6" fill="none" stroke="#8a8a8a" stroke-width="0.6" stroke-linejoin="round" stroke-linecap="round"/>
<polygon points="244.0,546.4 268.7,563.4 268.7,563.0 244.0,546.1" fill="#000000" stroke="#000000" stroke-width="0.4" stroke-linejoin="round"/>
<polygon points="268.7,563.4 313.6,533.6 313.6,533.3 268.7,563.0" fill="#181818" stroke="#181818" stroke-width="0.4" stroke-linejoin="round"/>
<polygon points="244.0,546.1 289.0,517.2 313.6,533.3 268.7,563.0" fill="#000000" stroke="#000000" stroke-width="0.4" stroke-linejoin="round"/>
<polyline points="268.7,563.4 268.7,563.0 313.6,533.3" fill="none" stroke="#d8d8d8" stroke-width="0.6" stroke-linejoin="round" stroke-linecap="round"/>
<polyline points="244.0,546.1 268.7,563.0" fill="none" stroke="#d8d8d8" stroke-width="0.6" stroke-linejoin="round" stroke-linecap="round"/>
<polyline points="268.7,563.4 244.0,546.4 244.0,546.1 289.0,517.2 313.6,533.3 313.6,533.6 268.7,563.4" fill="none" stroke="#8a8a8a" stroke-width="0.6" stroke-linejoin="round" stroke-linecap="round"/>
<line x1="37.5" y1="416.1" x2="262.5" y2="572.4" stroke="#000" stroke-width="1.7" stroke-linecap="square"/>
<line x1="262.5" y1="572.4" x2="493.3" y2="418.9" stroke="#000" stroke-width="1.7" stroke-linecap="square"/>
<line x1="493.3" y1="418.9" x2="521.6" y2="124.2" stroke="#000" stroke-width="1.8" />
<line x1="262.5" y1="572.4" x2="254.5" y2="577.7" stroke="#000" stroke-width="1.5"/>
<line x1="238.7" y1="545.1" x2="222.6" y2="555.5" stroke="#000" stroke-width="1.5"/>
<line x1="208.1" y1="523.9" x2="191.8" y2="534.0" stroke="#000" stroke-width="1.5"/>
<line x1="178.7" y1="503.5" x2="162.2" y2="513.4" stroke="#000" stroke-width="1.5"/>
<line x1="150.2" y1="483.8" x2="133.6" y2="493.4" stroke="#000" stroke-width="1.5"/>
<line x1="122.8" y1="464.8" x2="106.0" y2="474.2" stroke="#000" stroke-width="1.5"/>
<line x1="96.3" y1="446.5" x2="79.4" y2="455.7" stroke="#000" stroke-width="1.5"/>
<line x1="70.7" y1="428.8" x2="53.7" y2="437.7" stroke="#000" stroke-width="1.5"/>
<line x1="46.0" y1="411.7" x2="28.9" y2="420.4" stroke="#000" stroke-width="1.5"/>
<line x1="262.5" y1="572.4" x2="270.4" y2="577.9" stroke="#000" stroke-width="1.5"/>
<line x1="318.5" y1="524.6" x2="334.6" y2="535.0" stroke="#000" stroke-width="1.5"/>
<line x1="377.8" y1="485.3" x2="394.3" y2="495.2" stroke="#000" stroke-width="1.5"/>
<line x1="433.2" y1="448.6" x2="449.9" y2="458.0" stroke="#000" stroke-width="1.5"/>
<line x1="493.3" y1="418.9" x2="509.7" y2="427.5" stroke="#000" stroke-width="1.5"/>
<line x1="494.8" y1="403.5" x2="503.0" y2="407.8" stroke="#000" stroke-width="1.5"/>
<line x1="496.3" y1="388.0" x2="512.7" y2="396.4" stroke="#000" stroke-width="1.5"/>
<line x1="497.8" y1="372.2" x2="506.1" y2="376.4" stroke="#000" stroke-width="1.5"/>
<line x1="499.3" y1="356.3" x2="515.9" y2="364.5" stroke="#000" stroke-width="1.5"/>
<line x1="500.9" y1="340.1" x2="509.2" y2="344.2" stroke="#000" stroke-width="1.5"/>
<line x1="502.4" y1="323.8" x2="519.1" y2="331.7" stroke="#000" stroke-width="1.5"/>
<line x1="504.0" y1="307.2" x2="512.5" y2="311.1" stroke="#000" stroke-width="1.5"/>
<line x1="505.6" y1="290.3" x2="522.5" y2="298.1" stroke="#000" stroke-width="1.5"/>
<line x1="507.3" y1="273.3" x2="515.8" y2="277.1" stroke="#000" stroke-width="1.5"/>
<line x1="508.9" y1="256.0" x2="525.9" y2="263.5" stroke="#000" stroke-width="1.5"/>
<line x1="510.6" y1="238.5" x2="519.2" y2="242.2" stroke="#000" stroke-width="1.5"/>
<line x1="512.3" y1="220.7" x2="529.4" y2="227.9" stroke="#000" stroke-width="1.5"/>
<line x1="514.0" y1="202.7" x2="522.6" y2="206.3" stroke="#000" stroke-width="1.5"/>
<line x1="515.8" y1="184.4" x2="532.9" y2="191.4" stroke="#000" stroke-width="1.5"/>
<line x1="517.6" y1="165.9" x2="526.2" y2="169.3" stroke="#000" stroke-width="1.5"/>
<line x1="519.4" y1="147.1" x2="536.6" y2="153.8" stroke="#000" stroke-width="1.5"/>
<line x1="521.2" y1="128.1" x2="529.9" y2="131.3" stroke="#000" stroke-width="1.5"/>
<text id="z0" transform="matrix(0.7255 0.3855 -0.0770 0.7135 520.50 434.90)" font-size="20" text-anchor="start" y="7.16">0</text>
<text id="z1" transform="matrix(0.7363 0.3788 -0.0791 0.7324 523.85 403.80)" font-size="20" text-anchor="start" y="7.16">5000</text>
<text id="z2" transform="matrix(0.7474 0.3716 -0.0812 0.7521 527.30 371.88)" font-size="20" text-anchor="start" y="7.16">10000</text>
<text id="z3" transform="matrix(0.7589 0.3639 -0.0834 0.7726 530.84 339.09)" font-size="20" text-anchor="start" y="7.16">15000</text>
<text id="z4" transform="matrix(0.7708 0.3556 -0.0857 0.7939 534.48 305.41)" font-size="20" text-anchor="start" y="7.16">20000</text>
<text id="z5" transform="matrix(0.7830 0.3467 -0.0881 0.8161 538.22 270.79)" font-size="20" text-anchor="start" y="7.16">25000</text>
<text id="z6" transform="matrix(0.7956 0.3371 -0.0906 0.8393 542.06 235.19)" font-size="20" text-anchor="start" y="7.16">30000</text>
<text id="z7" transform="matrix(0.8086 0.3269 -0.0932 0.8635 546.01 198.57)" font-size="20" text-anchor="start" y="7.16">35000</text>
<text id="z8" transform="matrix(0.8220 0.3159 -0.0959 0.8887 550.08 160.90)" font-size="20" text-anchor="start" y="7.16">40000</text>
<text id="zt" transform="matrix(0.1377 -1.0297 1.1056 0.5019 596.66 319.23)" font-size="20" text-anchor="middle" y="7.16">ReZG1(G)</text>
<text id="x1" transform="matrix(0.7317 -0.4804 0.8158 0.5899 216.87 586.92)" font-size="20" text-anchor="middle" y="7.16">(1,1)</text>
<text id="x2" transform="matrix(0.7302 -0.4621 0.7848 0.5674 185.49 564.23)" font-size="20" text-anchor="middle" y="7.16">(2,2)</text>
<text id="x3" transform="matrix(0.7283 -0.4449 0.7555 0.5463 155.29 542.40)" font-size="20" text-anchor="middle" y="7.16">(3,3)</text>
<text id="x4" transform="matrix(0.7260 -0.4286 0.7279 0.5263 126.21 521.37)" font-size="20" text-anchor="middle" y="7.16">(4,4)</text>
<text id="x5" transform="matrix(0.7234 -0.4131 0.7017 0.5074 98.19 501.11)" font-size="20" text-anchor="middle" y="7.16">(5,5)</text>
<text id="x6" transform="matrix(0.7206 -0.3985 0.6769 0.4894 71.16 481.56)" font-size="20" text-anchor="middle" y="7.16">(6,6)</text>
<text id="x7" transform="matrix(0.7174 -0.3847 0.6534 0.4725 45.08 462.71)" font-size="20" text-anchor="middle" y="7.16">(7,7)</text>
<text id="x8" transform="matrix(0.7141 -0.3716 0.6311 0.4563 19.89 444.50)" font-size="20" text-anchor="middle" y="7.16">(8,8)</text>
<text id="xt" transform="matrix(0.7216 0.5413 -1.0059 0.5812 76.83 526.23)" font-size="20" text-anchor="middle" y="7.16">A</text>
<text id="y0" transform="matrix(0.7515 0.5090 -0.7287 0.5134 333.64 591.08)" font-size="20" text-anchor="start" y="7.16">ReZG1(G)</text>
<text id="y1" transform="matrix(0.7494 0.4719 -0.6757 0.4760 396.02 547.14)" font-size="20" text-anchor="start" y="7.16">ReZG2(G)</text>
<text id="y2" transform="matrix(0.7457 0.4388 -0.6282 0.4426 453.93 506.33)" font-size="20" text-anchor="start" y="7.16">J(G)</text>
<text id="y3" transform="matrix(0.7407 0.4091 -0.5856 0.4126 507.84 468.35)" font-size="20" text-anchor="start" y="7.16">ReZG3(G)</text>

<rect x="498" y="4.4" width="182.8" height="108.5" fill="#fff" stroke="#555" stroke-width="1.1"/>
<rect x="498.6" y="5.2" width="49.3" height="24.1" fill="#000" stroke="#777" stroke-width="0.5"/>
<rect x="498.6" y="32.9" width="49.3" height="24" fill="#f00" stroke="#a55" stroke-width="0.5"/>
<rect x="498.6" y="60.8" width="49.3" height="24" fill="#00f" stroke="#55a" stroke-width="0.5"/>
<rect x="498.6" y="88.6" width="49.3" height="24" fill="#008080" stroke="#577" stroke-width="0.5"/>
<g font-size="21" transform="translate(554.4 0) scale(1.08 1)">
<text x="0" y="24.2">ReZG1(G)</text>
<text x="0" y="52.1">ReZG2(G)</text>
<text x="0" y="79.9">J(G)</text>
<text x="0" y="107.3">ReZG3(G)</text>
</g>

</svg>
</body></html>
